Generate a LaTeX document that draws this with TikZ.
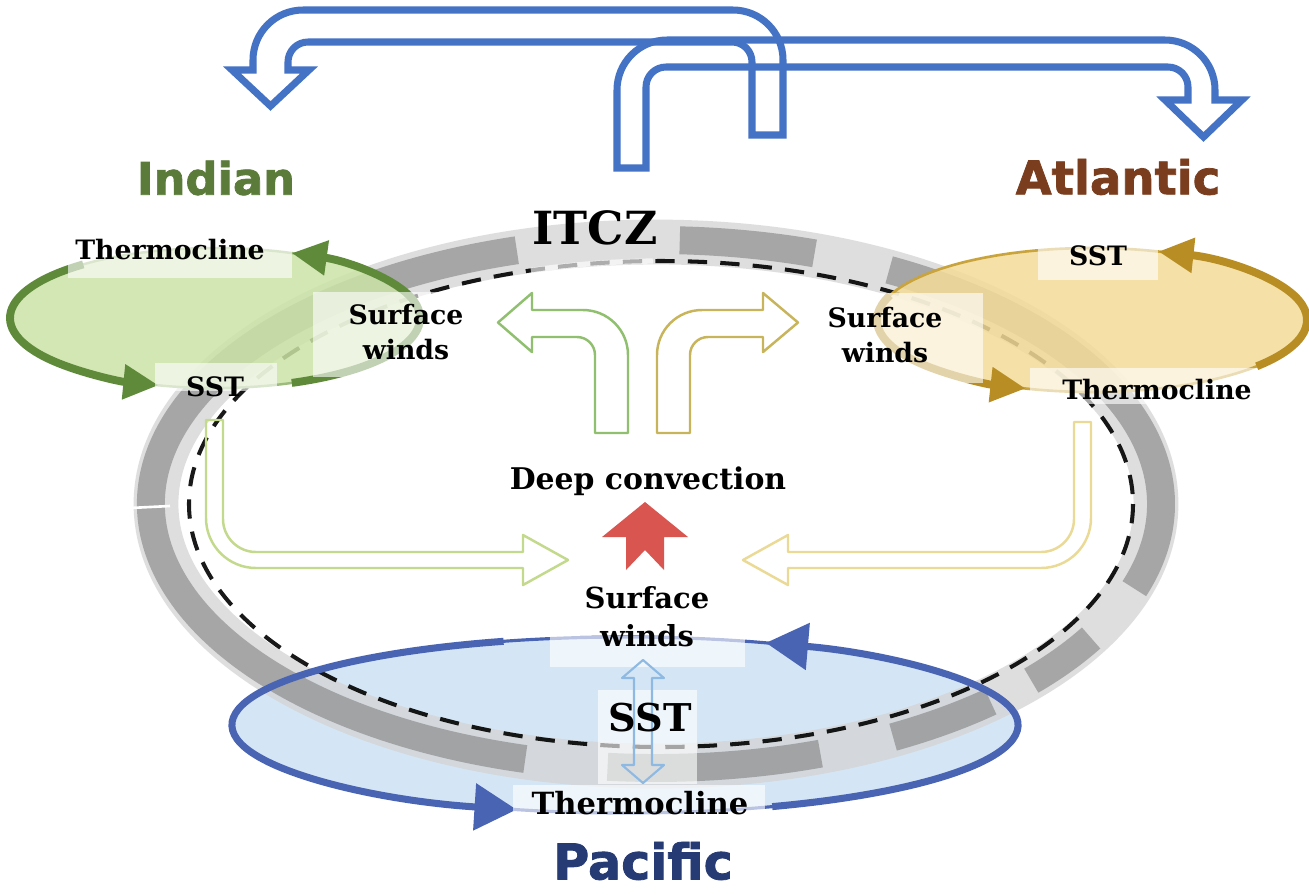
\documentclass[tikz,border=0pt]{standalone}
\usepackage{fontspec}
\usetikzlibrary{arrows.meta}
\newfontfamily\lblfont{DejaVu Serif}
\newfontfamily\seafont{DejaVu Sans}[BoldFeatures={FakeBold=1.6}]
\definecolor{topblue}{HTML}{4472C4}
\definecolor{bandlight}{HTML}{D4D4D4}
\definecolor{banddark}{HTML}{888888}
\definecolor{indfill}{HTML}{CBE3A6}
\definecolor{indline}{HTML}{5E8A3A}
\definecolor{indthin}{HTML}{9DBB7E}
\definecolor{indtext}{HTML}{5B7B3A}
\definecolor{atlfill}{HTML}{F4DC98}
\definecolor{atlline}{HTML}{B88D24}
\definecolor{atlthin}{HTML}{C9A43C}
\definecolor{atltext}{HTML}{7A3E1E}
\definecolor{pacfill}{HTML}{D4E6F5}
\definecolor{pacline}{HTML}{4A64B4}
\definecolor{pactext}{HTML}{263A73}
\definecolor{dblue}{HTML}{8DB9E2}
\definecolor{cgreen}{HTML}{8FBF6F}
\definecolor{cyellow}{HTML}{C8B45A}
\definecolor{lgreen}{HTML}{C3D98C}
\definecolor{lyellow}{HTML}{EBDA96}
\definecolor{conv}{HTML}{D95550}
\begin{document}
\begin{tikzpicture}[x=0.02cm, y=-0.02cm,
  lbl/.style={font=\lblfont\bfseries\fontsize{15.2}{20}\selectfont, align=center, inner sep=0pt, text=black},
  sea/.style={font=\seafont\bfseries\fontsize{25.5}{30}\selectfont, inner sep=0pt},
  labelbg/.style={fill=white, fill opacity=0.62},
  hollow/.style={line width=1.4pt, line join=round},
  bigblue/.style={draw=topblue, line width=4pt, line join=miter},
  loopind/.style={draw=indline, line width=4.5pt, -{Triangle[length=20pt,width=19pt]}},
  loopatl/.style={draw=atlline, line width=4.5pt, -{Triangle[length=20pt,width=19pt]}},
  looppac/.style={draw=pacline, line width=4pt, -{Triangle[length=24pt,width=26pt]}}]
\useasboundingbox (0,0) rectangle (1309,894);
\fill[white] (0,0) rectangle (1309,894);

% Pacific basin (under the ITCZ band)
\fill[pacfill] (625,725) ellipse [x radius=393, y radius=88];

% ITCZ band: light ring, darker outer segments, dashed axis
\draw[bandlight, line width=25.5pt, draw opacity=0.75] (656,504) ellipse [x radius=500, y radius=262];
\foreach \a/\b in {106/255, 264.5/289, 298/311.5, 318/329.5, 341.3/422.5, 71.7/87.3}
  \draw[banddark, line width=15.9pt, draw opacity=0.65] (656,504) ++(-\a:505 and 264)
    arc[start angle=-\a, end angle=-\b, x radius=505, y radius=264];
\draw[white, line width=1.5pt] (130,508) -- (170,506);
\draw[black, line width=2.3pt, dash pattern=on 11pt off 7.5pt, draw opacity=0.9]
  (661,504) ellipse [x radius=472, y radius=243];
% faded stretch of the axis below the ITCZ label
\draw[white, line width=3pt, draw opacity=0.65] (661,504) ++(-91:472 and 243)
  arc[start angle=-91, end angle=-106, x radius=472, y radius=243];

% Indian and Atlantic basins
\fill[indfill, fill opacity=0.85] (215,318) ellipse [x radius=205, y radius=70];
\fill[atlfill, fill opacity=0.85] (1092,320) ellipse [x radius=215, y radius=72];

% basin outlines
\draw[indthin, line width=1.4pt] (215,318) ellipse [x radius=205, y radius=70];
\draw[atlthin, line width=1.5pt] (1092,320) ellipse [x radius=215, y radius=72];
\draw[pacline, line width=1.8pt] (625,725) ellipse [x radius=393, y radius=88];

% circulation arrows around each basin
\draw[loopind] (215,318) ++(-130:205 and 70) arc[start angle=-130, end angle=-254, x radius=205, y radius=70];
\draw[loopind] (215,318) ++(68:205 and 70) arc[start angle=68, end angle=-68, x radius=205, y radius=70];
\draw[loopatl] (1092,320) ++(-160:215 and 72) arc[start angle=-160, end angle=-252, x radius=215, y radius=72];
\draw[loopatl] (1092,320) ++(40:215 and 72) arc[start angle=40, end angle=-72, x radius=215, y radius=72];
\draw[looppac] (625,725) ++(-108:393 and 88) arc[start angle=-108, end angle=-254, x radius=393, y radius=88];
\draw[looppac] (625,725) ++(68:393 and 88) arc[start angle=68, end angle=-69, x radius=393, y radius=88];

% label backgrounds
\fill[labelbg] (68,230) rectangle (292,278);
\fill[labelbg] (155,363) rectangle (277,391);
\fill[labelbg] (313,292) rectangle (468,377);
\fill[labelbg] (1038,241) rectangle (1158,280);
\fill[labelbg] (872,293) rectangle (983,383);
\fill[labelbg] (1030,368) rectangle (1257,404);
\fill[labelbg] (550,636) rectangle (745,667);
\fill[labelbg] (598,690) rectangle (697,784);
\fill[labelbg] (513,785) rectangle (765,823);

% convection arrows in the middle
\draw[hollow, cgreen] (595,433) -- (628,433) -- (628,355) arc[start angle=0, end angle=-90, radius=45]
  -- (532,310) -- (532,293) -- (498,322.5) -- (532,352) -- (532,337) -- (577,337)
  arc[start angle=-90, end angle=0, radius=18] -- cycle;
\draw[hollow, cyellow] (690,433) -- (657,433) -- (657,355) arc[start angle=180, end angle=270, radius=45]
  -- (763,310) -- (763,293) -- (798,322.5) -- (763,352) -- (763,337) -- (708,337)
  arc[start angle=270, end angle=180, radius=18] -- cycle;
\draw[hollow, lgreen] (206,420) -- (206,518) arc[start angle=180, end angle=90, radius=50]
  -- (523,568) -- (523,585) -- (568,560) -- (523,535) -- (523,552) -- (256,552)
  arc[start angle=90, end angle=180, radius=33] -- (223,420) -- cycle;
\draw[hollow, lyellow] (1091,422) -- (1091,518) arc[start angle=0, end angle=90, radius=50]
  -- (788,568) -- (788,585) -- (743,560) -- (788,535) -- (788,552) -- (1041,552)
  arc[start angle=90, end angle=0, radius=33] -- (1074,422) -- cycle;
\fill[conv] (645,502) -- (688,537) -- (664,537) -- (664,570) -- (645,550) -- (626,570)
  -- (626,537) -- (602,537) -- cycle;
\draw[hollow, dblue, line width=1.2pt] (643,660) -- (664,678) -- (652,678) -- (652,765) -- (664,765)
  -- (643,783) -- (622,765) -- (634,765) -- (634,678) -- (622,678) -- cycle;

% teleconnection arrows across the top
\draw[bigblue] (783,135) -- (783,60) arc[start angle=0, end angle=-90, radius=50]
  -- (303,10) arc[start angle=-90, end angle=-180, radius=50]
  -- (253,70) -- (232,70) -- (270.5,106) -- (309,70) -- (288,70) -- (288,62)
  arc[start angle=180, end angle=270, radius=20] -- (732,42)
  arc[start angle=270, end angle=360, radius=20] -- (752,135) -- cycle;
\draw[bigblue] (617,168) -- (617,90) arc[start angle=180, end angle=270, radius=50]
  -- (1165,40) arc[start angle=270, end angle=360, radius=50]
  -- (1215,100) -- (1242,100) -- (1203.5,137) -- (1165,100) -- (1188,100) -- (1188,87)
  arc[start angle=0, end angle=-90, radius=20] -- (666,67)
  arc[start angle=-90, end angle=-180, radius=20] -- (646,168) -- cycle;

% texts
\node[sea, text=indtext] (indian) at (216,178) {Indian};
\node[sea, text=atltext, font=\seafont\bfseries\fontsize{26.5}{30}\selectfont] (atlantic) at (1118,177) {Atlantic};
\node[sea, text=pactext, font=\seafont\bfseries\fontsize{28}{32}\selectfont] (pacific) at (643,861) {Pacific};
\node[lbl, font=\lblfont\bfseries\fontsize{26}{30}\selectfont] (itcz) at (595,228) {ITCZ};
\node[lbl] (ithermo) at (170,250) {Thermocline};
\node[lbl] (isst) at (215,387) {SST};
\node[lbl] (iwinds) at (406,332) {Surface\\winds};
\node[lbl] (asst) at (1098,256) {SST};
\node[lbl] (awinds) at (885,335) {Surface\\winds};
\node[lbl] (athermo) at (1157,390) {Thermocline};
\node[lbl, font=\lblfont\bfseries\fontsize{17}{20}\selectfont] (deep) at (648,481) {Deep convection};
\node[lbl, font=\lblfont\bfseries\fontsize{16.5}{21.5}\selectfont] (cwinds) at (647,617) {Surface\\winds};
\node[lbl, font=\lblfont\bfseries\fontsize{21.8}{24}\selectfont] (psst) at (650,718) {SST};
\node[lbl, font=\lblfont\bfseries\fontsize{17.4}{20}\selectfont] (pthermo) at (640,803) {Thermocline};
\end{tikzpicture}
\end{document}
